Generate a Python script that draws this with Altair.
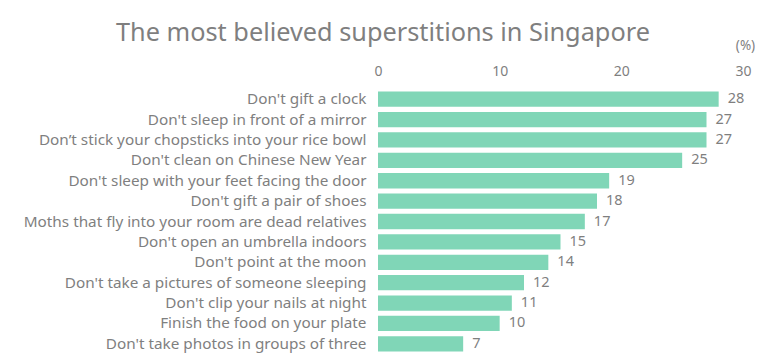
import altair as alt
import pandas as pd

labels = [
    "Don't gift a clock",
    "Don't sleep in front of a mirror",
    "Don\u2019t stick your chopsticks into your rice bowl",
    "Don't clean on Chinese New Year",
    "Don't sleep with your feet facing the door",
    "Don't gift a pair of shoes",
    "Moths that fly into your room are dead relatives",
    "Don't open an umbrella indoors",
    "Don't point at the moon",
    "Don't take a pictures of someone sleeping",
    "Don't clip your nails at night",
    "Finish the food on your plate",
    "Don't take photos in groups of three",
]
values = [28, 27, 27, 25, 19, 18, 17, 15, 14, 12, 11, 10, 7]
ticks = [0, 10, 20, 30]

df = pd.DataFrame({"label": labels, "value": values})

FONT = "Noto Sans"
GRAY = "#7f7f7f"

x = alt.X(
    "value:Q",
    scale=alt.Scale(domain=[0, 30], nice=False),
    axis=alt.Axis(
        orient="top", values=ticks, grid=False, domain=False, ticks=False,
        labelFlush=False,
        labelPadding=11, labelFontSize=14, labelColor=GRAY, labelFont=FONT,
        title="(%)", titleFontSize=13.5, titleColor=GRAY, titleFont=FONT,
        titleFontWeight="normal", titleAngle=0, titleX=367, titleY=-44,
        titleAlign="center", titleBaseline="middle",
    ),
)
y = alt.Y(
    "label:N", sort=labels,
    scale=alt.Scale(paddingInner=0.25, paddingOuter=0.125),
    axis=alt.Axis(
        title=None, domain=False, ticks=False, grid=False, labelPadding=12,
        labelFontSize=15.3, labelColor=GRAY, labelFont=FONT, labelLimit=400,
    ),
)

bars = alt.Chart(df).mark_bar(color="#80d6b7").encode(x=x, y=y)
text = alt.Chart(df).mark_text(
    align="left", baseline="middle", dx=9, fontSize=14.5, color=GRAY, font=FONT
).encode(x="value:Q", y=alt.Y("label:N", sort=labels), text="value:Q")

chart = (
    alt.layer(bars, text)
    .properties(
        width=365, height=265,
        title=alt.TitleParams(
            "The most believed superstitions in Singapore",
            fontSize=25.3, font=FONT, color=GRAY, fontWeight="normal",
            anchor="start", frame="group", dx=-262, offset=-8,
        ),
        autosize=alt.AutoSizeParams(type="none"),
        padding={"left": 378, "top": 89, "right": 23, "bottom": 3},
    )
    .configure_view(stroke=None)
)

chart.save("out.html", embed_options={"renderer": "svg", "actions": False})
